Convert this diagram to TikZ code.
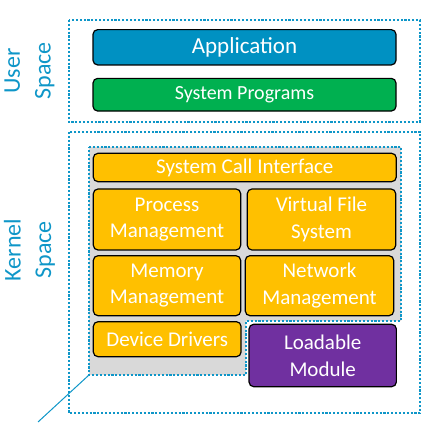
\documentclass[tikz,border=0pt]{standalone}
\usepackage{fontspec}
\setmainfont{Carlito}
\definecolor{lblue}{RGB}{14,150,200}
\definecolor{appblue}{RGB}{0,145,194}
\definecolor{sgreen}{RGB}{0,176,80}
\definecolor{kyellow}{RGB}{255,192,0}
\definecolor{mpurple}{RGB}{112,48,160}
\definecolor{kgray}{RGB}{217,217,217}
\tikzset{
  dotline/.style={draw=lblue, line width=1.7pt, dash pattern=on 1.6pt off 1.3pt},
  box/.style={draw=black, line width=0.9pt, rounded corners=3.5pt, text=white, align=center, inner sep=0pt},
  kbox/.style={box, fill=kyellow, font=\fontsize{15.75}{20}\selectfont},
  sidelabel/.style={text=lblue, rotate=90, align=center, font=\fontsize{18}{23}\selectfont}
}
\begin{document}
\begin{tikzpicture}[x=0.75pt, y=-0.75pt]
\useasboundingbox (0,0) rectangle (426,423);
% outer dotted frames
\draw[dotline] (69,20) rectangle (420,122);
\draw[dotline] (69,132) rectangle (420,413);
% gray kernel area
\coordinate (gcorner) at (89,375);
\coordinate (tail) at (38,422);
\draw[dotline, fill=kgray] (89,147) -- (401,147) -- (401,321) -- (246,321) -- (246,375) -- (gcorner) -- cycle;
\draw[lblue, line width=0.75pt] (gcorner) -- (tail);
% labels
\node[sidelabel] (user) at (29.5,71) {User\\Space};
\node[sidelabel] (kernel) at (29.5,250) {Kernel\\Space};
% user space boxes
\node[box, fill=appblue, minimum width=227.25pt, minimum height=26.5pt, font=\fontsize{17.25}{21}\selectfont] (app) at (244.5,47.3) {Application};
\node[box, fill=sgreen, minimum width=227.25pt, minimum height=24.5pt, font=\fontsize{15}{19}\selectfont] (sysprog) at (244.5,94.7) {System Programs};
% kernel boxes
\node[kbox, minimum width=227.25pt, minimum height=21.3pt] (sci) at (244.8,167.5) {System Call Interface};
\node[kbox, minimum width=110.5pt, minimum height=45.75pt] (proc) at (167,219.5) {Process\\Management};
\node[kbox, minimum width=111.3pt, minimum height=45.75pt] (vfs) at (321.5,219.5) {Virtual File\\System};
\node[kbox, minimum width=110.5pt, minimum height=45pt] (mem) at (167,285.7) {Memory\\Management};
\node[kbox, minimum width=111.3pt, minimum height=45pt] (net) at (319.5,285.7) {Network\\Management};
\node[kbox, minimum width=110.8pt, minimum height=26.25pt] (dev) at (167.2,339.2) {Device Drivers};
\node[box, fill=mpurple, minimum width=110.5pt, minimum height=46.8pt, font=\fontsize{15.75}{20}\selectfont] (mod) at (322.7,355.5) {Loadable\\Module};
\end{tikzpicture}
\end{document}
